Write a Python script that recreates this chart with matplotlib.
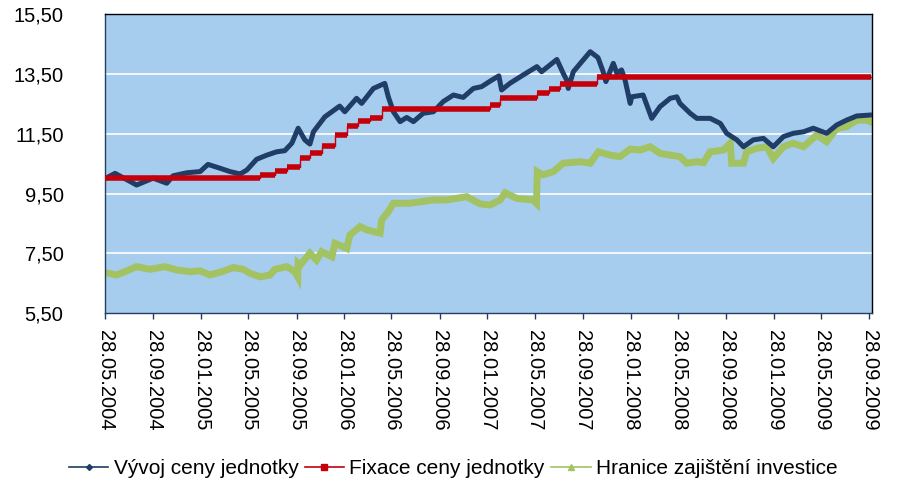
import pandas as pd
import matplotlib.pyplot as plt
import matplotlib.dates as mdates
from matplotlib.lines import Line2D
from matplotlib.ticker import FuncFormatter

plt.rcParams['font.family'] = ['Liberation Sans', 'DejaVu Sans']

start = pd.Timestamp("2004-05-28")

# Vyvoj ceny jednotky (days since 28.05.2004, value)
unit_days = [0, 25, 80, 122, 157, 173, 208, 242, 262, 293, 318, 344, 361, 386, 412, 437,
             458, 476, 492, 509, 522, 531, 560, 598, 611, 641, 654, 684, 713, 722, 735, 752,
             769, 786, 811, 837, 862, 888, 913, 939, 960, 986, 1004, 1011, 1032, 1066, 1101,
             1113, 1152, 1168, 1177, 1181, 1194, 1219, 1237, 1254, 1257, 1270, 1277, 1296,
             1305, 1317, 1326, 1339, 1343, 1372, 1394, 1415, 1441, 1458, 1466, 1492, 1509,
             1543, 1569, 1585, 1611, 1628, 1653, 1679, 1704, 1730, 1755, 1781, 1806, 1840,
             1866, 1891, 1917, 1951]
unit_vals = [10.01, 10.18, 9.79, 10.02, 9.85, 10.10, 10.20, 10.24, 10.48, 10.35, 10.24, 10.16,
             10.29, 10.65, 10.79, 10.90, 10.94, 11.19, 11.69, 11.30, 11.16, 11.57, 12.07, 12.43,
             12.24, 12.69, 12.52, 13.02, 13.19, 12.74, 12.24, 11.91, 12.05, 11.91, 12.19, 12.24,
             12.58, 12.80, 12.72, 13.02, 13.08, 13.30, 13.44, 12.97, 13.19, 13.47, 13.75, 13.58,
             13.99, 13.53, 13.30, 13.02, 13.58, 13.97, 14.25, 14.08, 14.05, 13.58, 13.25, 13.86,
             13.53, 13.64, 13.30, 12.52, 12.74, 12.80, 12.02, 12.41, 12.69, 12.74, 12.52, 12.19,
             12.02, 12.02, 11.85, 11.52, 11.30, 11.07, 11.30, 11.35, 11.07, 11.41, 11.52, 11.57,
             11.69, 11.52, 11.80, 11.96, 12.10, 12.13]

# Fixace ceny jednotky (step start day, level)
fix_days = [0, 395, 433, 464, 497, 522, 553, 586, 617, 645, 676, 706, 981, 1007, 1101, 1132,
            1160, 1254]
fix_vals = [10.01, 10.13, 10.27, 10.40, 10.70, 10.85, 11.11, 11.46, 11.76, 11.93, 12.02, 12.33,
            12.47, 12.69, 12.86, 13.00, 13.17, 13.39]
fix_end = 1953

# Hranice zajisteni investice
floor_days = [0, 29, 55, 80, 114, 152, 182, 216, 242, 267, 297, 327, 352, 369, 395, 420, 433,
              463, 484, 491, 492, 497, 522, 539, 552, 578, 586, 616, 624, 650, 667, 701, 705,
              722, 735, 777, 837, 871, 922, 956, 981, 1007, 1020, 1050, 1092, 1100, 1102, 1117,
              1143, 1168, 1211, 1237, 1258, 1288, 1313, 1339, 1364, 1390, 1415, 1441, 1466,
              1483, 1509, 1526, 1543, 1577, 1594, 1598, 1628, 1636, 1662, 1687, 1704, 1730,
              1755, 1781, 1815, 1840, 1866, 1891, 1917, 1942, 1951]
floor_vals = [6.86, 6.78, 6.92, 7.06, 6.97, 7.06, 6.95, 6.89, 6.92, 6.78, 6.89, 7.03, 6.97, 6.84,
              6.72, 6.78, 6.97, 7.06, 6.89, 6.72, 7.17, 7.11, 7.51, 7.28, 7.56, 7.39, 7.84, 7.67,
              8.12, 8.40, 8.29, 8.18, 8.62, 8.90, 9.18, 9.18, 9.29, 9.29, 9.40, 9.16, 9.12, 9.29,
              9.53, 9.34, 9.29, 9.18, 10.24, 10.13, 10.24, 10.52, 10.57, 10.52, 10.90, 10.79,
              10.74, 10.99, 10.96, 11.07, 10.85, 10.79, 10.74, 10.52, 10.57, 10.54, 10.90, 10.96,
              11.19, 10.52, 10.52, 10.90, 11.02, 11.07, 10.68, 11.07, 11.19, 11.07, 11.46, 11.24,
              11.69, 11.74, 11.96, 11.96, 11.91]

tick_labels = ["28.05.2004", "28.09.2004", "28.01.2005", "28.05.2005", "28.09.2005",
               "28.01.2006", "28.05.2006", "28.09.2006", "28.01.2007", "28.05.2007",
               "28.09.2007", "28.01.2008", "28.05.2008", "28.09.2008", "28.01.2009",
               "28.05.2009", "28.09.2009"]
y_ticks = [5.5, 7.5, 9.5, 11.5, 13.5, 15.5]

names = ["Vývoj ceny jednotky", "Fixace ceny jednotky", "Hranice zajištění investice"]
c_blue, c_red, c_green = "#1F3D66", "#C4000B", "#A3C261"
axis_col = "#243F60"

to_date = lambda days: [start + pd.Timedelta(days=d) for d in days]

fig = plt.figure(figsize=(8.99, 4.88), dpi=100)
ax = fig.add_axes([0.1171, 0.358, 0.8525, 0.6127])
ax.set_facecolor("#A6CDEE")

# grid
for v in y_ticks[1:-1]:
    ax.axhline(v, color="white", lw=1.2, zorder=1)

# green floor
ax.plot(to_date(floor_days), floor_vals, color=c_green, lw=5, solid_joinstyle="miter", zorder=2)

# blue unit price
ax.plot(to_date(unit_days), unit_vals, color=c_blue, lw=3.6, zorder=3)

# red fixation steps: thin connectors + thick levels
step_x = to_date(fix_days + [fix_end])
ax.step(step_x, fix_vals + [fix_vals[-1]], where="post", color=c_red, lw=1, zorder=4)
ends = fix_days[1:] + [fix_end]
ax.hlines(fix_vals, to_date(fix_days), to_date(ends), color=c_red, lw=4, zorder=4)

ax.set_xlim(start, start + pd.Timedelta(days=1955))
ax.set_ylim(5.5, 15.5)

tick_dates = [pd.Timestamp(day=28, month=int(t[3:5]), year=int(t[6:])) for t in tick_labels]
ax.set_xticks(tick_dates)
ax.set_xticklabels(tick_labels, rotation=270, fontsize=14.5)
ax.set_yticks(y_ticks)
ax.yaxis.set_major_formatter(FuncFormatter(lambda v, p: f"{v:.2f}".replace(".", ",")))
ax.tick_params(axis="y", length=0, pad=30, labelsize=14.5)
ax.tick_params(axis="x", length=4.3, width=1, color=axis_col, pad=8, direction="out")

for s in ["top", "right"]:
    ax.spines[s].set_color("black")
    ax.spines[s].set_linewidth(1)
for s in ["left", "bottom"]:
    ax.spines[s].set_color(axis_col)
    ax.spines[s].set_linewidth(1)

handles = [Line2D([], [], color=c_blue, lw=1.2, marker="D", ms=3),
           Line2D([], [], color=c_red, lw=1.2, marker="s", ms=4),
           Line2D([], [], color=c_green, lw=1.2, marker="^", ms=5)]
fig.legend(handles, names, loc="center", bbox_to_anchor=(0.504, 0.039), ncol=3,
           frameon=False, fontsize=15, handlelength=1.9, handletextpad=0.25,
           columnspacing=0.3)

plt.savefig("out.png", dpi=100)
